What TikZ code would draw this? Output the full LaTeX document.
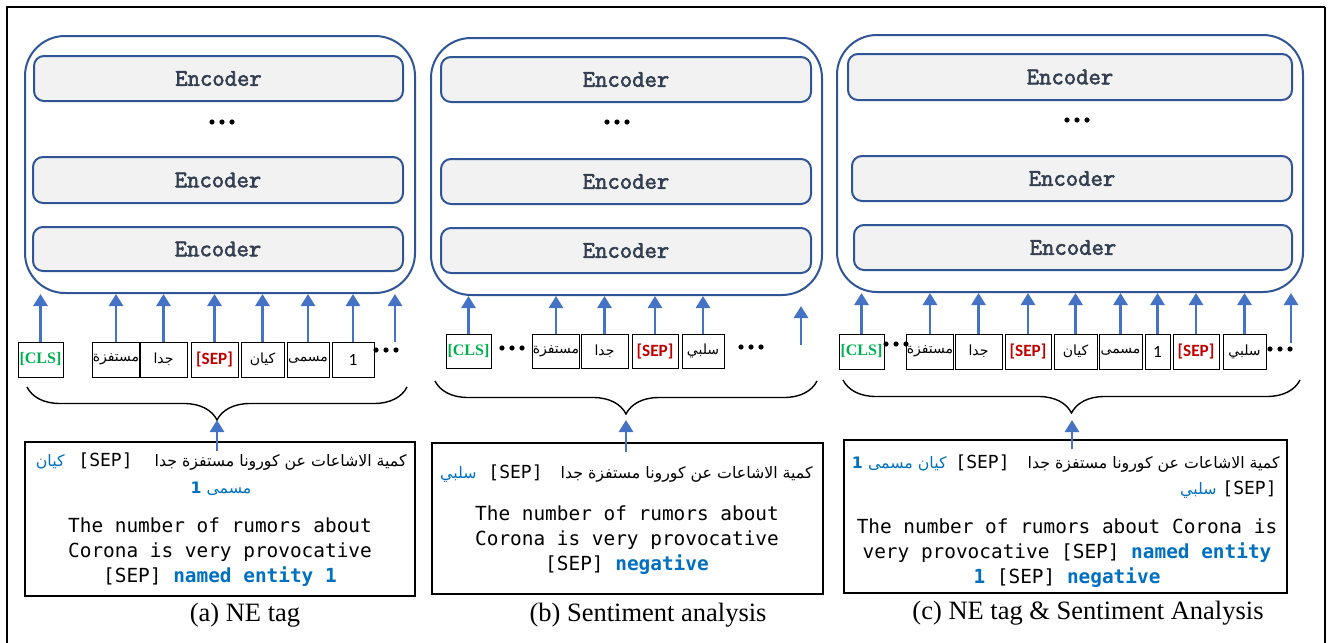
\documentclass[tikz,border=0pt]{standalone}
\usepackage{fontspec}
\setmainfont{Liberation Serif}
\newfontfamily\arabicfont[Script=Arabic]{DejaVu Sans}
\newfontfamily\codefont{DejaVu Sans Mono}
\newfontfamily\calfont{Carlito}
\newfontfamily\encfont[FakeBold=2.5]{Latin Modern Mono}
\TeXXeTstate=1
\usetikzlibrary{arrows.meta,decorations.pathreplacing}

\definecolor{bertblue}{RGB}{47,85,151}
\definecolor{encfill}{RGB}{242,242,242}
\definecolor{enctext}{RGB}{51,63,80}
\definecolor{arrowblue}{RGB}{68,114,196}
\definecolor{nblue}{RGB}{0,112,192}
\definecolor{clsgreen}{RGB}{0,176,80}
\definecolor{sepred}{RGB}{192,0,0}

\newcommand\artext[1]{{\arabicfont\beginR #1\endR}}
\newcommand\clstok{{\rmfamily\bfseries\fontsize{8}{9}\selectfont\color{clsgreen}[CLS]}}
\newcommand\septok{{\calfont\bfseries\fontsize{8.6}{10}\selectfont\color{sepred}[SEP]}}
\newcommand\numtok[1]{{\calfont\fontsize{8.6}{10}\selectfont #1}}
\newcommand\netag[1]{{\bfseries\color{nblue}#1}}
\newcommand\tridots[2]{\foreach \k in {-10,0,10} \fill (#1+\k,#2) circle (1.3pt);}

\tikzset{
  bert/.style={draw=bertblue, line width=1pt, rounded corners=20pt, inner sep=0pt},
  encoder/.style={draw=bertblue, line width=1pt, fill=encfill, rounded corners=5pt,
    text=enctext, font=\encfont\fontsize{12}{13}\selectfont},
  tok/.style={draw, line width=0.5pt, inner sep=0pt, font=\arabicfont\fontsize{7}{9}\selectfont},
  up/.style={draw=arrowblue, line width=1.4pt, -{Triangle[width=7pt,length=6pt]}},
  sentbox/.style={draw, line width=0.6pt, inner sep=0pt},
  entext/.style={align=center, inner sep=0pt, font=\codefont\fontsize{9.7}{12.5}\selectfont},
  arline/.style={inner sep=0pt, font=\fontsize{7.9}{10}\selectfont},
  septext/.style={inner sep=0pt, font=\codefont\fontsize{9}{10}\selectfont},
  caption/.style={inner sep=0pt, font=\fontsize{13.25}{15}\selectfont},
  brace/.style={decorate, decoration={brace, amplitude=16.5pt}, line width=0.7pt},
}

\begin{document}
\begin{tikzpicture}[x=0.5pt,y=-0.5pt]

  \useasboundingbox (0,0) rectangle (1329,643);

  % frame
  \draw[line width=1pt] (7,643) -- (7,7) -- (1325,7);
  \draw[line width=0.6pt] (1325,7) -- (1325,643);

  % BERT stacks
  \node[bert, minimum width=195pt, minimum height=128.5pt] (bertA) at (220,164.5) {};
  \node[bert, minimum width=195.5pt, minimum height=128.5pt] (bertB) at (626.5,166.5) {};
  \node[bert, minimum width=233pt, minimum height=128.5pt] (bertC) at (1070,163.5) {};

  \node[encoder, minimum width=184.5pt, minimum height=22.5pt] (encA1) at (218.5,78.5) {Encoder};
  \node[encoder, minimum width=185pt, minimum height=23pt] (encA2) at (218,180) {Encoder};
  \node[encoder, minimum width=185pt, minimum height=22pt] (encA3) at (218,249) {Encoder};
  \node[encoder, minimum width=185pt, minimum height=22.5pt] (encB1) at (626,79.5) {Encoder};
  \node[encoder, minimum width=185pt, minimum height=22.5pt] (encB2) at (626,181.5) {Encoder};
  \node[encoder, minimum width=185pt, minimum height=22.5pt] (encB3) at (626,250.5) {Encoder};
  \node[encoder, minimum width=222pt, minimum height=23pt] (encC1) at (1070,77) {Encoder};
  \node[encoder, minimum width=220pt, minimum height=22.5pt] (encC2) at (1072,178.5) {Encoder};
  \node[encoder, minimum width=219pt, minimum height=22.5pt] (encC3) at (1073,247.5) {Encoder};

  \tridots{222}{122}
  \tridots{617}{122}
  \tridots{1077}{120}

  % input tokens
  \foreach \x/\w/\t/\n in {40.5/22.5/\clstok/A1, 116/21/\artext{مستفزة}/A2,
      163.5/23.5/\artext{جدا}/A3, 214.5/23.5/\septok/A4, 262.5/21.5/\artext{كيان}/A5,
      308/21/\artext{مسمى}/A6, 353/21/\numtok{1}/A7}
    \node[tok, minimum width=\w pt, minimum height=17.5pt] (tok\n) at (\x,359.5) {\t};
  \foreach \x/\w/\t/\n in {468.5/22.5/\clstok/B1, 556/21/\artext{مستفزة}/B2,
      604.5/23.5/\artext{جدا}/B3, 655/23/\septok/B4, 703/21/\artext{سلبي}/B5}
    \node[tok, minimum width=\w pt, minimum height=17pt] (tok\n) at (\x,351) {\t};
  \foreach \x/\w/\t/\n in {861.5/22.5/\clstok/C1, 930/21/\artext{مستفزة}/C2,
      978.5/23.5/\artext{جدا}/C3, 1028/23/\septok/C4, 1075.5/21.5/\artext{كيان}/C5,
      1120.5/21.5/\artext{مسمى}/C6, 1157.5/12.5/\numtok{1}/C7, 1196/23/\septok/C8,
      1244.5/21.5/\artext{سلبي}/C9}
    \node[tok, minimum width=\w pt, minimum height=17.5pt] (tok\n) at (\x,351.5) {\t};

  \tridots{386}{350}
  \tridots{512}{348}
  \tridots{751}{347}
  \tridots{896}{344}
  \tridots{1280}{349}

  % arrows into the stacks
  \foreach \n in {A1,A2,A3,A4,A5,A6,A7}
    \draw[up] (tok\n.north) -- (tok\n.north |- bertA.south);
  \foreach \n in {B1,B2,B3,B4,B5}
    \draw[up] (tok\n.north) -- (tok\n.north |- bertB.south);
  \foreach \n in {C1,C2,C3,C4,C5,C6,C7,C8,C9}
    \draw[up] (tok\n.north) -- (tok\n.north |- bertC.south);

  \coordinate (moreA) at (395,342);
  \coordinate (moreB) at (801,345);
  \coordinate (moreC) at (1291,343);
  \draw[up] (moreA) -- (moreA |- bertA.south);
  \draw[up] (moreB) -- ([yshift=-5pt]moreB |- bertB.south);
  \draw[up] (moreC) -- (moreC |- bertC.south);

  % braces
  \coordinate (tipA) at (217,420);
  \coordinate (tipB) at (626,420);
  \coordinate (tipC) at (1072,420);
  \draw[brace] (407,387) -- (27,387);
  \draw[brace] (817,381) -- (435,381);
  \draw[brace] (1300,380) -- (843,380);

  % input sentences
  \node[sentbox, minimum width=195pt, minimum height=77pt] (textA) at (220,519) {};
  \node[sentbox, minimum width=195.5pt, minimum height=75.5pt] (textB) at (627.5,518.5) {};
  \node[sentbox, minimum width=221.5pt, minimum height=76.5pt] (textC) at (1065.5,516.5) {};

  \draw[up] ([yshift=-5pt]tipA |- textA.north) -- (tipA);
  \draw[up] ([yshift=-5pt]tipB |- textB.north) -- (tipB);
  \draw[up] ([yshift=-5pt]tipC |- textC.north) -- (tipC);

  \node[arline, anchor=base east] (arA) at (407,466) {\artext{كمية الاشاعات عن كورونا مستفزة جدا}};
  \node[septext, anchor=base east] (sepA) at (133,466) {[SEP]};
  \node[arline, text=nblue, anchor=base east] (neA) at (65,466) {\artext{كيان}};
  \node[arline, text=nblue, anchor=base] (neA2) at (221,493) {\artext{مسمى {\bfseries 1}}};
  \node[entext] (enA) at (220,552) {The number of rumors about\\Corona is very provocative\\{}[SEP] \netag{named entity 1}};

  \node[arline, anchor=base east] (arB) at (813,478) {\artext{كمية الاشاعات عن كورونا مستفزة جدا}};
  \node[septext, anchor=base east] (sepB) at (543,478) {[SEP]};
  \node[arline, text=nblue, anchor=base east] (neB) at (477,478) {\artext{سلبي}};
  \node[entext] (enB) at (627,540) {The number of rumors about\\Corona is very provocative\\{}[SEP] \netag{negative}};

  \node[arline, anchor=base east] (arC) at (1280,468) {\artext{كمية الاشاعات عن كورونا مستفزة جدا}};
  \node[septext, anchor=base east] (sepC) at (1010,468) {[SEP]};
  \node[arline, text=nblue, anchor=base east] (neC) at (947,468) {\artext{كيان مسمى {\bfseries 1}}};
  \node[septext, anchor=base east] (sepC2) at (1277,494) {[SEP]};
  \node[arline, text=nblue, anchor=base east] (neC2) at (1217,494) {\artext{سلبي}};
  \node[entext] (enC) at (1067,553) {The number of rumors about Corona is\\very provocative [SEP] \netag{named entity}\\\netag{1} [SEP] \netag{negative}};

  % captions
  \node[caption] (capA) at (245,615) {(a) NE tag};
  \node[caption] (capB) at (648,615) {(b) Sentiment analysis};
  \node[caption] (capC) at (1088,613) {(c) NE tag \& Sentiment Analysis};

\end{tikzpicture}
\end{document}
